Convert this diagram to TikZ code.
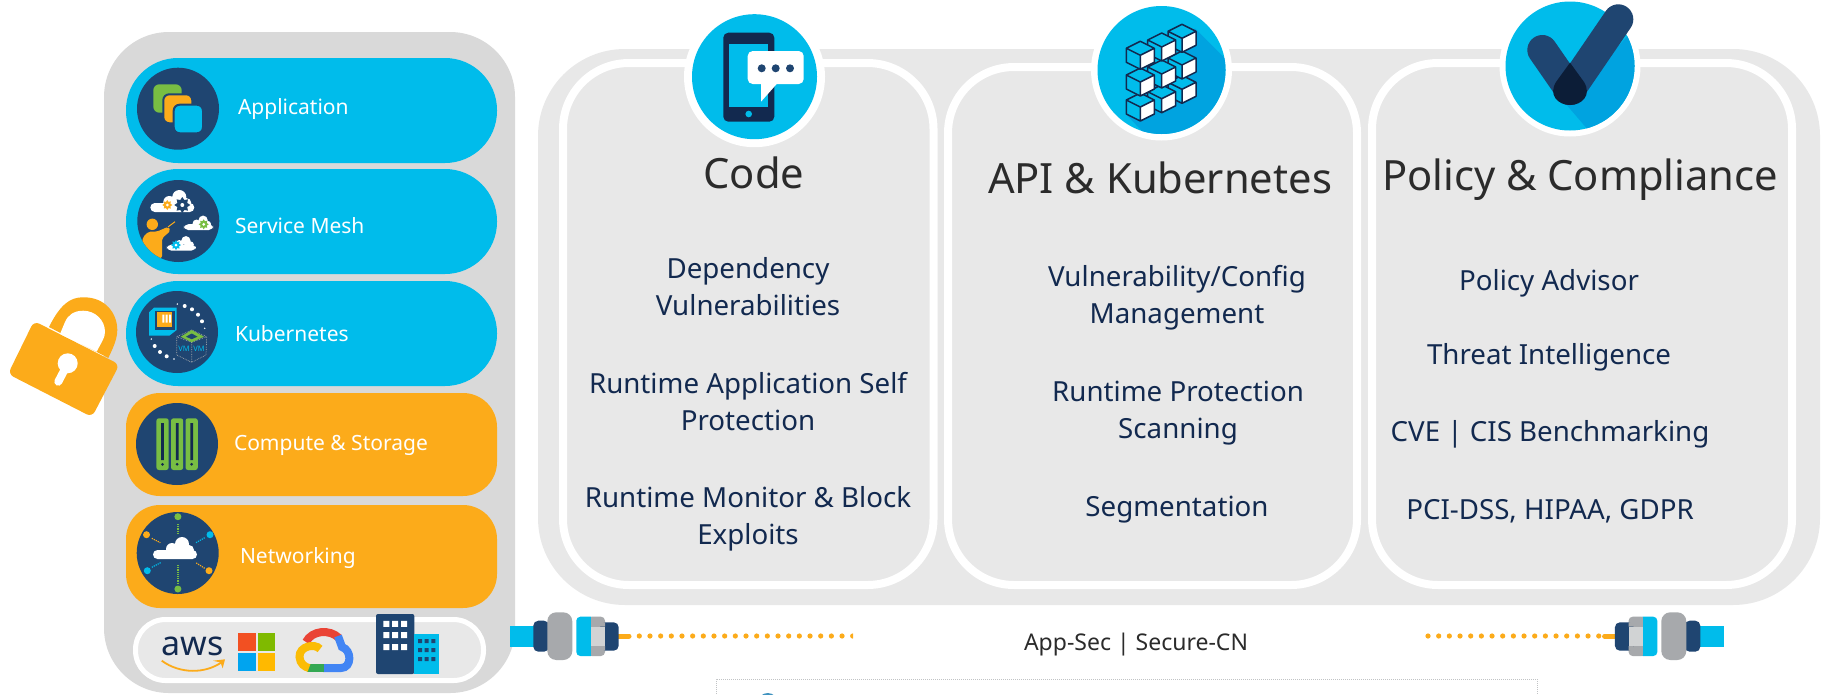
\documentclass[tikz,border=0pt]{standalone}
\usepackage{fontspec}
\setmainfont{Noto Sans}
\usetikzlibrary{positioning, shapes.geometric}

\definecolor{skyblue}{HTML}{00BCEB}
\definecolor{deepblue}{HTML}{00A3E0}
\definecolor{navy}{HTML}{1F4571}
\definecolor{inknavy}{HTML}{12294F}
\definecolor{amber}{HTML}{FCAB1A}
\definecolor{panelgray}{HTML}{D9D9D9}
\definecolor{boxgray}{HTML}{E8E8E8}
\definecolor{plugray}{HTML}{A7A9AC}
\definecolor{pluglight}{HTML}{D1D3D4}
\definecolor{leaf}{HTML}{78BE43}
\definecolor{charcoal}{HTML}{2B2B2B}
\definecolor{msred}{HTML}{F25022}
\definecolor{msgreen}{HTML}{7FBA00}
\definecolor{msblue}{HTML}{00A4EF}
\definecolor{msyellow}{HTML}{FFB900}
\definecolor{cloudred}{HTML}{EA4335}
\definecolor{cloudblue}{HTML}{4285F4}
\definecolor{cloudgreen}{HTML}{34A853}
\definecolor{cloudyellow}{HTML}{FBBC05}

\tikzset{
	bluepill/.style={fill=skyblue, minimum width=371pt, minimum height=105pt, rounded corners=52pt},
	orangepill/.style={fill=amber, minimum width=371pt, minimum height=103pt, rounded corners=34pt},
	disc/.style={circle, fill=navy, minimum size=82pt},
	column/.style={draw=white, line width=8pt, fill=boxgray, rounded corners=66pt},
	ring/.style={circle, fill=white, minimum size=141pt},
	badge/.style={circle, fill=skyblue, minimum size=127pt},
	pilltext/.style={text=white, anchor=west, font=\fontsize{21}{25}\selectfont},
	headtext/.style={text=charcoal, font=\fontsize{41.7}{48}\selectfont},
	itemtext/.style={text=inknavy, align=center, font=\fontsize{27.7}{37}\selectfont},
	gear/.style={star, star points=8, star point ratio=1.5, inner sep=0pt},
	brick/.pic={
		\fill[skyblue] (0,-14) -- (14,-7) -- (14,7) -- (0,14) -- (-14,7) -- (-14,-7) -- cycle;
		\fill[white] (0,0) -- (14,-7) -- (14,7) -- (0,14) -- cycle;
		\draw[inknavy, line width=1.5pt, line join=round] (0,-14) -- (14,-7) -- (14,7) -- (0,14) -- (-14,7) -- (-14,-7) -- cycle (-14,-7) -- (0,0) -- (14,-7) (0,0) -- (0,14);
	},
	puff/.pic={
		\fill[white, rounded corners=4.5pt] (-22,1) rectangle (22,10);
		\fill[white] (7,-5) circle (7) (-3,0) circle (6) (14,1) circle (5);
	},
	plug/.pic={
		\draw[amber, line width=5pt, line cap=round] (618,636) -- (629,636);
		\fill[skyblue] (510,625.7) rectangle (535,647.3);
		\fill[navy, rounded corners=5pt] (533.3,620.7) rectangle (549,651.7);
		\fill[plugray, rounded corners=9pt] (547.3,612.3) rectangle (572.3,660);
		\fill[skyblue, rounded corners=4pt] (576.3,616.7) rectangle (595,656);
		\fill[plugray, rounded corners=4pt] (588,616.7) rectangle (605,656);
		\fill[skyblue] (585,616.7) rectangle (591,656);
		\fill[pluglight] (591,626.7) rectangle (605,646);
		\fill[navy, rounded corners=5pt] (600,622.3) rectangle (618.7,650.7);
		\fill[plugray] (600,622.3) rectangle (605,626.7) (600,646) rectangle (605,650.7);
		\fill[pluglight] (600,626.7) rectangle (605,646);
	},
}

\begin{document}
\begin{tikzpicture}[x=1pt, y=-1pt, inner sep=0pt, outer sep=0pt]
			\clip (0,0) rectangle (1822,694);
			\fill[white] (0,0) rectangle (1822,694);

			\fill[panelgray, rounded corners=65pt] (104,32) rectangle (515,693);
			\fill[boxgray, rounded corners=87pt] (538,49) rectangle (1820,605);

			\node[bluepill] (application) at (311.5,110.5) {};
			\node[bluepill] (mesh) [below=6pt of application] {};
			\node[bluepill] (kubernetes) [below=7pt of mesh] {};
			\node[orangepill] (compute) at (311.5,444.5) {};
			\node[orangepill] (networking) [below=9pt of compute] {};

			\node[disc] (appicon) at (178,108.7) {};
			\node[disc] (meshicon) at (178.3,221) {};
			\node[disc] (kubeicon) at (177,332) {};
			\node[disc] (computeicon) at (177,444) {};
			\node[disc] (neticon) at (177.7,553) {};

			\node[pilltext] (applabel) at (238,109) {Application};
			\node[pilltext] (meshlabel) at (235,226) {Service Mesh};
			\node[pilltext] (kubelabel) at (235,334) {Kubernetes};
			\node[pilltext] (computelabel) at (234,445) {Compute \& Storage};
			\node[pilltext] (netlabel) at (240,558) {Networking};

			\fill[leaf, rounded corners=6pt] (153.3,84.3) rectangle (181.7,112.7);
			\draw[navy, fill=amber, line width=2pt, rounded corners=6pt] (163.3,94.3) rectangle (192.3,123.3);
			\draw[navy, fill=skyblue, line width=2pt, rounded corners=6pt] (173.7,104.7) rectangle (203,133.3);

			\pic at (172.3,202) {puff};
			\pic[scale=.66] at (198.5,223.5) {puff};
			\pic[scale=.66] at (181.3,244) {puff};
			\node[gear, fill=navy, minimum size=16pt] (gear1) at (182.3,205) {};
			\node[circle, fill=white, minimum size=4pt] at (gear1) {};
			\node[gear, fill=amber, minimum size=10pt] (gear2) at (167.3,205) {};
			\node[circle, fill=white, minimum size=3pt] at (gear2) {};
			\node[gear, fill=leaf, minimum size=10pt] (gear3) at (203.7,224.3) {};
			\node[circle, fill=white, minimum size=3pt] at (gear3) {};
			\node[gear, fill=skyblue, minimum size=10pt] (gear4) at (176,245) {};
			\node[circle, fill=white, minimum size=3pt] at (gear4) {};
			\begin{scope}
				\clip (178.3,221) circle (41);
				\fill[amber] (152.3,224.3) circle (5.7);
				\fill[amber, rounded corners=2pt] (143,237) -- (148.3,231.7) -- (156.7,231.7) -- (168.3,226.7) -- (170.7,230.7) -- (162,238.3) -- (162,258) -- (140,258) -- cycle;
				\draw[amber, line width=1pt] (168,227) -- (175,221.7);
			\end{scope}

			\fill[skyblue] (149,312.3) -- (154,307.7) -- (176.7,307.7) -- (176.7,330) -- (169.3,335.7) -- (149,335.7) -- cycle;
			\fill[navy] (155,311) rectangle (175,330);
			\fill[amber] (157,311.7) rectangle (172,326.7);
			\fill[white] (162.3,314.7) rectangle +(2,8) (165.7,314.7) rectangle +(2,8) (169,314.7) rectangle +(2,8);
			\fill[white] (177.3,304) circle (.8) (184.7,306) circle (2) (192,309.3) circle (2) (198,314.7) circle (2) (202,321.3) circle (2) (204.7,328.3) circle (.8);
			\fill[white] (151.3,339) circle (.8) (154.7,346) circle (2) (160,352) circle (2) (166.7,356.3) circle (2) (174,359) circle (.8);
			\draw[plugray, densely dotted, line width=.7pt] (191.7,330) -- (206.7,336.7) -- (206,355) -- (191.7,362.3) -- (176.7,355) -- (176.7,336.7) -- cycle (176.7,336.7) -- (191.7,342.3) -- (206.7,336.7) (191.7,342.3) -- (191.7,362.3);
			\fill[leaf] (191.7,330) -- (204,336.7) -- (191.7,342.3) -- (180.7,336.7) -- cycle;
			\fill[navy] (191.7,333.5) -- (197.5,336.7) -- (191.7,339.2) -- (186,336.7) -- cycle;
			\node[text=skyblue, font=\bfseries\fontsize{7.5}{8}\selectfont] (vmleft) at (184,349) {VM};
			\node[text=skyblue, font=\bfseries\fontsize{7.5}{8}\selectfont] (vmright) at (199,349) {VM};

			\fill[leaf, rounded corners=2.5pt] (156.4,418.3) rectangle (168.7,470);
			\fill[leaf, rounded corners=2.5pt] (171,418.3) rectangle (183.2,470);
			\fill[leaf, rounded corners=2.5pt] (185.5,418.3) rectangle (197.8,470);
			\fill[inknavy] (161.2,423) rectangle +(2.7,37) (175.8,423) rectangle +(2.7,37) (190.3,423) rectangle +(2.7,37);
			\fill[inknavy] (162.5,464.3) circle (1.5) (177.1,464.3) circle (1.5) (191.6,464.3) circle (1.5);

			\pic at (175,549) {puff};
			\fill[leaf] (177.9,516.7) circle (3.5) (177.9,589) circle (3.5);
			\fill[amber] (146.5,534.7) circle (3.5) (209,570.7) circle (3.5);
			\fill[skyblue] (210,534.7) circle (3.5) (147.3,570.7) circle (3.5);
			\draw[leaf, line width=1.2pt, densely dotted] (177.9,524) -- (177.9,533.3) (177.9,565) -- (177.9,583);
			\draw[amber, line width=1.2pt, densely dotted] (151.8,538.3) -- (160.3,542.7) (204.7,568.3) -- (195.9,562.7);
			\draw[skyblue, line width=1.2pt, densely dotted] (204.7,537.7) -- (195.9,542.7) (151.8,567.3) -- (161.4,562.3);

			\draw[white, line width=5pt, fill=boxgray, rounded corners=30pt] (135.5,619.5) rectangle (483.5,680.5);
			\node[text=inknavy, anchor=base, font=\fontsize{34}{36}\selectfont] (aws) at (192.5,655) {aws};
			\draw[amber, line width=1.8pt] (161.7,660.7) .. controls (180,674) and (205,674) .. (222,662);
			\fill[amber] (213,660.7) -- (225,659.3) -- (222.7,668.3) -- (220.5,662.5) -- cycle;
			\fill[msred] (238.3,633.3) rectangle (256,651);
			\fill[msgreen] (257.7,633.3) rectangle (275.3,651);
			\fill[msblue] (238.3,652.7) rectangle (256,670.7);
			\fill[msyellow] (257.7,652.7) rectangle (275.3,670.7);
			\draw[cloudred, line width=8pt] (306,642) .. controls (312,630) and (330,629) .. (339,638);
			\draw[cloudblue, line width=8pt] (338,636) -- (342,647) .. controls (352,650) and (352,668) .. (341,668) -- (323,668);
			\draw[cloudgreen, line width=8pt] (324,668) -- (307,668);
			\draw[cloudyellow, line width=8pt] (320,649) .. controls (315,643) and (299,646) .. (299.5,657) .. controls (300,664) and (305,667) .. (309,668);

			\fill[navy, rounded corners=2pt] (376,614) -- (414.3,614) -- (414.3,674) -- (376,674) -- cycle;
			\fill[skyblue] (414.3,634) rectangle (439.3,674);
			\fill[white] (383.3,620.8) rectangle +(6,6) (392,620.8) rectangle +(6,6) (401,620.8) rectangle +(6,6);
			\fill[white] (383.3,632) rectangle +(6,6) (392,632) rectangle +(6,6) (401,632) rectangle +(6,6);
			\fill[white] (383.3,644) rectangle +(6,6) (392,644) rectangle +(6,6) (401,644) rectangle +(6,6);
			\fill[navy] (418,639) rectangle +(4,4) (424.7,639) rectangle +(4,4) (431.3,639) rectangle +(4,4);
			\fill[navy] (418,648) rectangle +(4,4) (424.7,648) rectangle +(4,4) (431.3,648) rectangle +(4,4);
			\fill[navy] (418,657) rectangle +(4,4) (424.7,657) rectangle +(4,4) (431.3,657) rectangle +(4,4);

			\fill[amber, rounded corners=6pt] (34,321) -- (119.5,364.5) -- (92,417) -- (8,374) -- cycle;
			\fill[amber] (49,327) .. controls (60,305) and (70,297) .. (83.3,297.3) .. controls (105,297) and (117.3,313) .. (117.3,330) .. controls (117.3,340) and (112,350) .. (108.3,358) -- cycle;
			\fill[white] (60,334) -- (96.7,351.7) .. controls (102,341) and (105,338) .. (105,331.7) .. controls (105,320) and (95,310.7) .. (83.3,310.7) .. controls (74,310.7) and (68,315) .. (65,322) -- cycle;
			\fill[white] (67.7,363.3) circle (10);
			\draw[white, line width=8pt, line cap=round] (66,367) -- (58.3,381.7);

			\node[column, minimum width=370.5pt, minimum height=522pt] (codebox) at (748.25,324) {};
			\node[column, minimum width=409pt, minimum height=518pt] (apibox) at (1152.5,326) {};
			\node[column, minimum width=420pt, minimum height=522pt] (policybox) at (1582,324) {};

			\node[ring] (codering) at (754.5,76.7) {};
			\node[ring] (apiring) at (1161.5,70) {};
			\node[ring] (policyring) at (1570,66) {};
			\node[badge, minimum size=125pt] (codebadge) at (codering) {};
			\node[badge, minimum size=128pt] (apibadge) at (apiring) {};
			\node[badge, minimum size=129pt] (policybadge) at (policyring) {};

			\fill[inknavy, rounded corners=5pt] (723.3,32.7) rectangle (774.3,121.7);
			\fill[skyblue] (729.3,44) rectangle (768.3,106.7);
			\fill[skyblue] (748.7,114) circle (3.3);
			\fill[white, rounded corners=5pt] (747.7,51) rectangle (803.7,84);
			\fill[white] (761,80) -- (761,101.7) -- (776.7,84) -- (776.7,80) -- cycle;
			\fill[navy] (761.7,68.3) circle (4) (775.7,68.3) circle (4) (790,68.3) circle (4);

			\begin{scope}
				\clip (1161.5,70) circle (64);
				\fill[deepblue] (1195,28.3) -- (1236.7,70) -- (1236.7,150) -- (1160,150) -- (1126.7,115) -- cycle;
			\end{scope}
			\pic at (1182,89.3) {brick};
			\pic at (1182,65) {brick};
			\pic at (1182,38.3) {brick};
			\pic at (1161.7,98.7) {brick};
			\pic at (1161.7,74) {brick};
			\pic at (1161.7,47) {brick};
			\pic at (1140.3,107) {brick};
			\pic at (1140.3,82) {brick};
			\pic at (1140.3,55.3) {brick};

			\begin{scope}
				\clip (1570,66) circle (64.5);
				\fill[deepblue] (1630,33) -- (1650,33) -- (1650,150) -- (1586.7,128.3) -- (1566.7,105) -- cycle;
			\end{scope}
			\draw[navy, line width=30pt, line cap=round] (1542.3,50) -- (1570,90);
			\draw[navy, line width=30pt, line cap=round] (1570,90) -- (1618.3,19.3);
			\fill[inknavy!70!black] (1570,62.7) -- (1556,82) .. controls (1548,95) and (1558,105) .. (1570,105) .. controls (1582,105) and (1592,95) .. (1584,82) -- cycle;

			\node[headtext] (codehead) at (754,173) {Code};
			\node[headtext] (apihead) at (1160,178) {API \& Kubernetes};
			\node[headtext] (policyhead) at (1580,180) {Policy \& Compliance};

			\node[itemtext] (dep) at (748,287) {Dependency\\Vulnerabilities};
			\node[itemtext] (rasp) at (748,402) {Runtime Application Self\\Protection};
			\node[itemtext] (monitor) at (748,519) {Runtime Monitor \& Block\\Exploits};

			\node[itemtext] (config) at (1177,298) {Vulnerability/Config\\Management};
			\node[itemtext] (scan) at (1178,413) {Runtime Protection\\Scanning};
			\node[itemtext] (seg) at (1177,510) {Segmentation};

			\node[itemtext] (advisor) at (1549,283) {Policy Advisor};
			\node[itemtext] (threat) at (1549,357) {Threat Intelligence};
			\node[itemtext] (cve) at (1550,434) {CVE | CIS Benchmarking};
			\node[itemtext] (pci) at (1550,511) {PCI-DSS, HIPAA, GDPR};

			\pic at (0,0) {plug};
			\pic[xscale=-1] at (2233.6,0) {plug};

			\coordinate (leftstart) at (639.3,636);
			\coordinate (leftend) at (860,636);
			\coordinate (rightstart) at (1428,636);
			\coordinate (rightend) at (1602,636);
			\begin{scope}
				\clip (630,625) rectangle (853,647);
				\draw[amber, line width=5.2pt, line cap=round, dash pattern=on 0pt off 10.67pt] (leftstart) -- (leftend);
			\end{scope}
			\draw[amber, line width=5.2pt, line cap=round, dash pattern=on 0pt off 10.67pt] (rightstart) -- (rightend);

			\node[text=charcoal, font=\fontsize{23}{28}\selectfont] (appsec) at (1136,645) {App-Sec | Secure-CN};

			\draw[plugray!70!white, densely dotted, line width=1pt] (716,700) -- (716,679) -- (1537,679) -- (1537,700);
			\fill[blue!35!cyan!50!gray] (767.7,703) circle (10);
\end{tikzpicture}
\end{document}
